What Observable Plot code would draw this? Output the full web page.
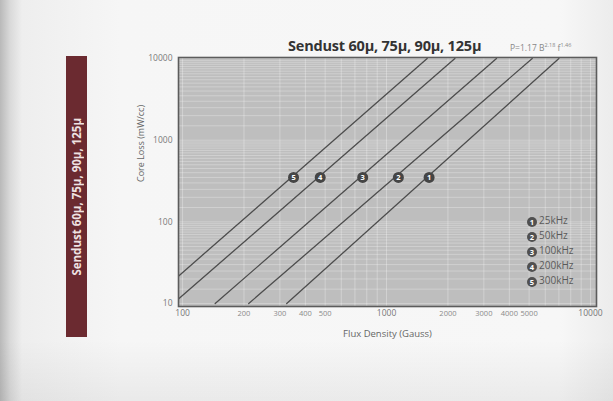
<!DOCTYPE html>
<html>
<head>
<meta charset="utf-8">
<script src="https://cdn.jsdelivr.net/npm/d3@7"></script>
<script src="https://cdn.jsdelivr.net/npm/@observablehq/plot@0.6"></script>
<style>
  html, body { margin: 0; padding: 0; }
  #wrap {
    position: relative; width: 613px; height: 401px; overflow: hidden;
    background: linear-gradient(to right, #b9b9b9 0px, #d9d9d9 10px, #eeeeee 22px, #f6f6f6 120px, #f7f7f7 560px, #ececec 613px);
    font-family: "Open Sans", sans-serif;
  }
  #shade { position:absolute; left:0; top:340px; width:613px; height:61px;
    background: linear-gradient(to bottom, rgba(0,0,0,0) 0%, rgba(0,0,0,0.05) 100%); }
  #plot { position: absolute; left: 0; top: 0; }
  #bar {
    position: absolute; left: 66px; top: 56px; width: 21px; height: 281px;
    background: #6b2a30; display: flex; align-items: center; justify-content: center;
  }
  #bar span {
    writing-mode: vertical-rl; transform: rotate(180deg);
    color: #efe2e2; font-weight: 700; font-size: 11.5px; white-space: nowrap;
  }
  #title { position: absolute; left: 288px; top: 36px; font-weight: 700; font-size: 14.5px; color: #333; white-space: nowrap; letter-spacing: -0.2px; }
  #formula { position: absolute; left: 510px; top: 41px; font-size: 8.5px; color: #888; white-space: nowrap; }
  #formula sup { font-size: 5.5px; }
  #legend { position: absolute; left: 527px; top: 213px; font-size: 10px; color: #5a5a5a; line-height: 15px; }
  #legend .c { display: inline-block; width: 10px; height: 10px; border-radius: 50%; background: #505050; color: #fff;
    font-size: 7.5px; font-weight: 700; line-height: 10px; text-align: center; vertical-align: -1px; margin-right: 2px; }
</style>
</head>
<body>
<div id="wrap">
  <div id="shade"></div>
  <div id="bar"><span>Sendust 60µ, 75µ, 90µ, 125µ</span></div>
  <div id="plot"></div>
  <div id="title">Sendust 60µ, 75µ, 90µ, 125µ</div>
  <div id="formula">P=1.17 B<sup>2.18</sup> f<sup>1.46</sup></div>
  <div id="legend"></div>
</div>
<script>
// ---- data ----
const freqs = ["25kHz", "50kHz", "100kHz", "200kHz", "300kHz"];
const curveNums = ["1", "2", "3", "4", "5"];
// each curve is straight on log-log axes: start and end points
const startB = [324, 211, 144.5, 90, 67];
const startP = [10, 10, 10, 10, 10];
const endB = [7000, 5180, 3460, 2163, 1582];
const endP = [10000, 10000, 10000, 10000, 10000];
// numbered markers on the curves
const markerB = [1617, 1143, 764, 473, 350];
const markerP = [350, 350, 350, 350, 350];
// tick labels
const xTicksMajor = [100, 1000, 10000];
const xTicksMinor = [200, 300, 400, 500, 2000, 3000, 4000, 5000];
const yTicks = [10, 100, 1000, 10000];

// ---- build tables ----
const lineData = [];
freqs.forEach((f, i) => {
  lineData.push({freq: f, B: startB[i], P: startP[i]});
  lineData.push({freq: f, B: endB[i], P: endP[i]});
});
const markers = freqs.map((f, i) => ({freq: f, num: curveNums[i], B: markerB[i], P: markerP[i]}));

// graph-paper grid
const xGrid = [];
[100, 1000].forEach(d => { for (let k = 1; k < 10; k += 1) xGrid.push(d * k); });
xGrid.push(10000);
const yGrid = [];
[10, 100, 1000].forEach(d => { for (let k = 1; k < 10; k += 0.5) yGrid.push(d * k); });
yGrid.push(10000);

const chart = Plot.plot({
  width: 613, height: 401,
  marginLeft: 178, marginRight: 17, marginTop: 57, marginBottom: 95,
  style: {background: "transparent", fontFamily: "Open Sans, sans-serif"},
  x: {type: "log", domain: [95.5, 10700], axis: null},
  y: {type: "log", domain: [9.2, 10300], axis: null},
  marks: [
    Plot.frame({fill: "#bebebe"}),
    Plot.ruleX(xGrid, {stroke: "#ffffff", strokeOpacity: 0.3, strokeWidth: 1}),
    Plot.ruleY(yGrid, {stroke: "#ffffff", strokeOpacity: 0.28, strokeWidth: 1}),
    Plot.line(lineData, {x: "B", y: "P", z: "freq", stroke: "#4d4d4d", strokeWidth: 1.3, clip: true}),
    Plot.dot(markers, {x: "B", y: "P", r: 5.5, fill: "#454545"}),
    Plot.text(markers, {x: "B", y: "P", text: "num", fill: "#ffffff", fontSize: 7.5, fontWeight: "bold"}),
    Plot.frame({stroke: "#5c5c5c", strokeWidth: 1.6}),
    Plot.text(xTicksMajor, {x: d => d, frameAnchor: "bottom", dy: 9, text: d => String(d), fontSize: 8.5, fill: "#777"}),
    Plot.text(xTicksMinor, {x: d => d, frameAnchor: "bottom", dy: 9, text: d => String(d), fontSize: 7.5, fill: "#8a8a8a"}),
    Plot.text(yTicks, {y: d => d, frameAnchor: "left", dx: -6, textAnchor: "end", text: d => String(d), fontSize: 8.5, fill: "#7a7a7a"}),
    Plot.text(["Flux Density (Gauss)"], {frameAnchor: "bottom", dy: 30, fontSize: 9.5, fill: "#666"}),
    Plot.text(["Core Loss (mW/cc)"], {frameAnchor: "left", rotate: -90, dx: -37, fontSize: 9, fill: "#666"})
  ]
});
document.getElementById("plot").appendChild(chart);

// legend
const legend = document.getElementById("legend");
freqs.forEach((f, i) => {
  const row = document.createElement("div");
  row.innerHTML = `<span class="c">${curveNums[i]}</span>${f}`;
  legend.appendChild(row);
});
</script>
</body>
</html>
